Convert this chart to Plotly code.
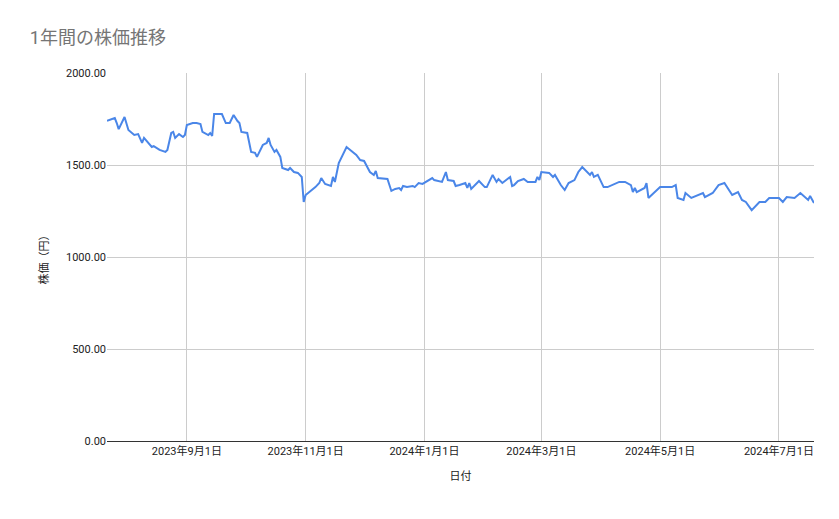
import plotly.graph_objects as go
import pandas as pd

start_date = "2023-07-21"
day_offsets = [1,5,6,7,10,12,15,17,19,20,24,25,28,31,32,34,35,36,38,40,41,42,45,47,49,50,53,54,55,56,60,62,64,66,68,69,70,73,75,77,78,81,83,84,85,87,88,90,91,94,95,97,99,101,102,103,108,110,111,113,116,117,118,120,124,127,129,131,133,136,138,139,140,145,147,149,151,152,153,155,158,159,161,163,168,169,173,175,176,179,180,182,185,186,187,188,192,195,196,199,201,202,204,208,209,210,212,215,217,221,222,223,224,228,230,231,234,236,238,241,243,245,249,250,251,253,256,258,264,267,270,271,272,273,277,278,279,285,291,293,294,297,298,301,307,308,312,315,318,322,325,327,329,332,336,339,341,346,348,350,354,357,361,362,364]
prices = [1740,1755,1728,1695,1761,1690,1663,1668,1620,1647,1598,1603,1582,1571,1582,1674,1680,1647,1668,1652,1663,1717,1728,1728,1723,1680,1663,1674,1658,1777,1777,1728,1728,1772,1739,1728,1680,1674,1571,1566,1544,1609,1620,1647,1609,1571,1582,1544,1484,1473,1484,1462,1457,1435,1299,1337,1380,1402,1429,1397,1386,1435,1408,1511,1598,1571,1555,1527,1522,1462,1446,1467,1429,1424,1359,1370,1375,1364,1386,1380,1386,1380,1402,1397,1429,1418,1408,1462,1418,1413,1386,1391,1402,1375,1402,1370,1413,1380,1380,1446,1408,1424,1402,1435,1386,1391,1413,1424,1408,1408,1435,1418,1462,1457,1435,1446,1391,1364,1402,1418,1462,1489,1446,1462,1435,1446,1380,1380,1408,1408,1391,1353,1375,1353,1375,1402,1321,1380,1380,1391,1321,1310,1348,1321,1348,1326,1348,1391,1402,1337,1353,1310,1299,1255,1299,1299,1321,1321,1299,1326,1321,1348,1310,1332,1293]
x_tick_dates = ["2023-09-01","2023-11-01","2024-01-01","2024-03-01","2024-05-01","2024-07-01"]
x_tick_labels = ["2023年9月1日","2023年11月1日","2024年1月1日","2024年3月1日","2024年5月1日","2024年7月1日"]
y_ticks = [0,500,1000,1500,2000]

dates = pd.Timestamp(start_date) + pd.to_timedelta(day_offsets, unit="D")

fig = go.Figure(go.Scatter(x=dates, y=prices, mode="lines",
                           line=dict(color="#4a86e8", width=2)))
fig.update_layout(
    width=839, height=519,
    margin=dict(l=99, r=33, t=65, b=86),
    paper_bgcolor="white", plot_bgcolor="white",
    font=dict(family="Roboto, Noto Sans CJK JP", size=11, color="#222"),
    title=dict(text="1年間の株価推移", x=0.026, xanchor="left", y=0.955, yanchor="top",
               font=dict(size=18, color="#757575", family="Roboto, Noto Sans CJK JP")),
    showlegend=False,
    xaxis=dict(range=[dates[0], dates[-1]], tickvals=x_tick_dates, ticktext=x_tick_labels,
               showgrid=True, gridcolor="#cccccc", showline=True, linecolor="#333333",
               ticks="", title=dict(text="日付", font=dict(size=11)), zeroline=False),
    yaxis=dict(range=[0, 2000], tickvals=y_ticks, tickformat=".2f",
               showgrid=True, gridcolor="#cccccc", zeroline=False, ticks="",
               title=dict(text="株価（円）", font=dict(size=11))),
)
fig.write_html("out.html")
